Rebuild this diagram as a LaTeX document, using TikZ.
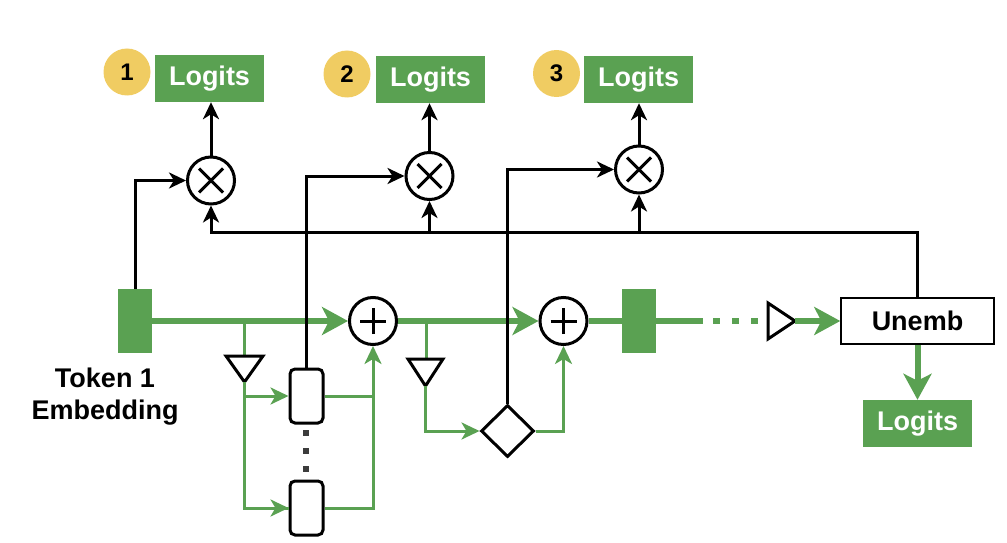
\documentclass[tikz,border=0pt]{standalone}
\usepackage{fontspec}
\setmainfont{Liberation Sans}
\usetikzlibrary{arrows.meta,shapes.geometric}
\definecolor{gr}{RGB}{90,161,82}
\definecolor{yl}{RGB}{240,204,98}
\definecolor{dotc}{RGB}{60,60,60}
\begin{document}
\begin{tikzpicture}[x=1pt,y=-1pt,
  bigfont/.style={font=\fontsize{27}{32}\selectfont\bfseries},
  logit/.style={fill=gr, text=white, bigfont, minimum width=109pt, minimum height=47pt, inner sep=0pt},
  num/.style={circle, fill=yl, minimum size=47pt, inner sep=0pt, font=\fontsize{24}{28}\selectfont\bfseries},
  op/.style={circle, draw=black, line width=3pt, minimum size=47pt, inner sep=0pt, fill=white},
  plusop/.style={op, path picture={\draw[line width=3pt] ([xshift=-13pt]path picture bounding box.center) -- ([xshift=13pt]path picture bounding box.center);
     \draw[line width=3pt] ([yshift=-13pt]path picture bounding box.center) -- ([yshift=13pt]path picture bounding box.center);}},
  timesop/.style={op, path picture={\draw[line width=3pt] ([shift={(-12pt,-12pt)}]path picture bounding box.center) -- ([shift={(12pt,12pt)}]path picture bounding box.center);
     \draw[line width=3pt] ([shift={(-12pt,12pt)}]path picture bounding box.center) -- ([shift={(12pt,-12pt)}]path picture bounding box.center);}},
  blk/.style={line width=3pt, black},
  blkarr/.style={blk, -{Stealth[length=17pt,width=16pt,inset=5pt]}},
  gthick/.style={line width=6pt, gr},
  gthickarr/.style={gthick, -{Stealth[length=26pt,width=28pt,inset=7pt]}},
  gthin/.style={line width=3pt, gr},
  gthinarr/.style={gthin, -{Stealth[length=18pt,width=17pt,inset=5pt]}},
  embrect/.style={fill=gr, minimum width=34pt, minimum height=64pt, inner sep=0pt},
  headbox/.style={draw=black, line width=3pt, rounded corners=5pt, minimum width=33pt, minimum height=54pt, inner sep=0pt, fill=white},
  tri/.style={draw=black, line width=3pt, line join=miter, fill=white},
  sq/.style={fill=dotc, minimum size=6pt, inner sep=0pt}
]
\useasboundingbox (0,0) rectangle (1007,543);

% top logits and numbers
\node[logit] (L1) at (209.5,78.5) {Logits};
\node[logit] (L2) at (430.5,79.5) {Logits};
\node[logit] (L3) at (638.5,79.5) {Logits};
\node[num] (n1) at (127,72) {1};
\node[num] (n2) at (347,74) {2};
\node[num] (n3) at (556.5,73.5) {3};

% multiply nodes
\node[timesop] (m1) at (211,180.5) {};
\node[timesop] (m2) at (429.5,176) {};
\node[timesop] (m3) at (639,169.5) {};
\draw[blkarr] (m1.north) -- (L1.south -| m1.north);
\draw[blkarr] (m2.north) -- (L2.south -| m2.north);
\draw[blkarr] (m3.north) -- (L3.south -| m3.north);

% residual stream
\node[embrect] (emb) at (135,321) {};
\node[align=center, bigfont] (embl) at (105,397) {Token 1\\Embedding};
\node[plusop] (p1) at (373,321) {};
\node[plusop] (p2) at (563.5,321) {};
\node[embrect] (emb2) at (639,321) {};
\node[draw=black, line width=1.5pt, minimum width=153pt, minimum height=46pt, inner sep=0pt, bigfont] (un) at (917.5,321) {Unemb};
\node[logit] (L4) at (917.5,423.5) {Logits};

\draw[gthickarr] (emb.east) -- (p1.west);
\draw[gthickarr] (p1.east) -- (p2.west);
\draw[gthick] (p2.east) -- (emb2.west);
\coordinate (dashA) at (703,321);
\draw[gthick] (emb2.east) -- (dashA);
\coordinate (dashB) at (713,321);
\coordinate (t3a) at (768,303);
\coordinate (t3b) at (768,339);
\coordinate (t3tip) at (795,321);
\draw[gthick, dash pattern=on 7pt off 12pt] (dashB) -- (t3a |- dashB);
\draw[tri] (t3a) -- (t3tip) -- (t3b) -- cycle;
\draw[gthickarr] (t3tip) -- (un.west);
\draw[gthickarr] (un.south) -- (L4.north);

% bus from unembedding
\coordinate (busR) at (917.5,232);
\coordinate (busL) at (211,232);
\draw[blkarr] (un.north) -- (busR) -- (busL) -- (m1.south);
\draw[blkarr] (m2.south |- busL) -- (m2.south);
\draw[blkarr] (m3.south |- busL) -- (m3.south);

% token embedding to first multiply
\draw[blkarr] (emb.north) |- (m1.west);

% attention block
\coordinate (br1) at (244.5,321);
\coordinate (t1a) at (226,356);
\coordinate (t1b) at (263,356);
\coordinate (t1tip) at (244.5,382);
\node[headbox] (h1) at (306.5,396) {};
\node[headbox] (h2) at (306.5,508) {};
\draw[gthin] (br1) -- (br1 |- t1a);
\draw[tri] (t1a) -- (t1b) -- (t1tip) -- cycle;
\draw[gthin] (t1tip) |- (h2.west);
\draw[gthinarr] (t1tip |- h1.west) -- (h1.west);
\draw[gthinarr] (t1tip |- h2.west) -- (h2.west);
\draw[gthin] (h1.east) -- (h1.east -| p1.south);
\draw[gthinarr] (h2.east) -| (p1.south);
\node[sq] (d1) at (306,433) {};
\node[sq] (d2) at (306,451) {};
\node[sq] (d3) at (306,469) {};
\draw[blkarr] (h1.north) |- (m2.west);

% MLP block
\coordinate (br2) at (426,321);
\coordinate (t2a) at (408,359);
\coordinate (t2b) at (443,359);
\coordinate (t2tip) at (425.5,386);
\node[diamond, draw=black, line width=3pt, minimum width=53pt, minimum height=52pt, inner sep=0pt, fill=white] (dia) at (507.5,431) {};
\draw[gthin] (br2) -- (br2 |- t2a);
\draw[tri] (t2a) -- (t2b) -- (t2tip) -- cycle;
\draw[gthinarr] (t2tip) |- (dia.west);
\draw[gthinarr] (dia.east) -| (p2.south);
\draw[blkarr] (dia.north) |- (m3.west);
\end{tikzpicture}
\end{document}
